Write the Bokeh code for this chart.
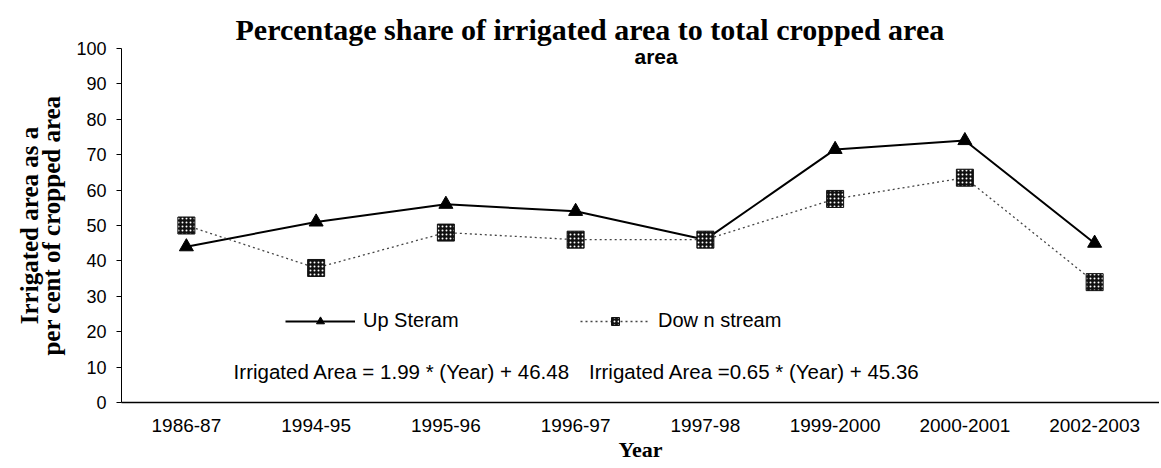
from bokeh.plotting import figure
from bokeh.models import Label, Legend, LegendItem, FactorRange, Range1d, FixedTicker
from bokeh.embed import file_html
from bokeh.resources import INLINE

years = ["1986-87", "1994-95", "1995-96", "1996-97", "1997-98", "1999-2000", "2000-2001", "2002-2003"]
up_stream = [44, 51, 56, 54, 46, 71.5, 74, 45]
down_stream = [50, 38, 48, 46, 46, 57.5, 63.5, 34]
y_ticks = [0, 10, 20, 30, 40, 50, 60, 70, 80, 90, 100]

title_text = "Percentage share of irrigated area to total cropped area"
subtitle_text = "area"
y_label_text = "Irrigated area as a\nper cent of cropped area"
x_label_text = "Year"
legend_labels = ["Up Steram", "Dow n stream"]
equations = ["Irrigated Area = 1.99 * (Year) + 46.48", "Irrigated Area =0.65 * (Year) + 45.36"]

SANS = "Liberation Sans"
SERIF = "Liberation Serif"

p = figure(x_range=FactorRange(*years), y_range=Range1d(0, 100),
           width=1159, height=466, output_backend="svg", toolbar_location=None,
           min_border_left=121, min_border_right=0, min_border_top=48, min_border_bottom=64)
p.outline_line_color = None
p.xgrid.visible = False
p.ygrid.visible = False
p.background_fill_color = "white"
p.border_fill_color = "white"

p.title.text = title_text
p.title.align = "left"
p.title.offset = 114
p.title.standoff = 6
p.title.text_font = SERIF
p.title.text_font_style = "bold"
p.title.text_font_size = "30px"
p.title.text_color = "black"

# x axis
xa = p.xaxis[0]
xa.axis_line_color = "black"
xa.axis_line_width = 1.5
xa.major_tick_out = 0
xa.major_tick_in = 0
xa.minor_tick_out = 0
xa.major_label_standoff = 16
xa.major_label_text_font = SANS
xa.major_label_text_font_size = "19px"
xa.major_label_text_color = "black"
xa.axis_label = x_label_text
xa.axis_label_standoff = 2
xa.axis_label_text_font = SERIF
xa.axis_label_text_font_style = "bold"
xa.axis_label_text_font_size = "22px"
xa.axis_label_text_color = "black"

# y axis
ya = p.yaxis[0]
ya.ticker = FixedTicker(ticks=y_ticks)
ya.axis_line_color = "black"
ya.axis_line_width = 1
ya.major_tick_out = 5
ya.major_tick_in = 0
ya.minor_tick_out = 0
ya.minor_tick_in = 0
ya.major_label_standoff = 10
ya.major_label_text_font = SANS
ya.major_label_text_font_size = "18px"
ya.major_label_text_color = "black"
ya.axis_label = y_label_text
ya.axis_label_standoff = 8
ya.axis_label_text_font = SERIF
ya.axis_label_text_font_style = "bold"
ya.axis_label_text_font_size = "25px"
ya.axis_label_text_line_height = 0.85
ya.axis_label_text_color = "black"

# series
up_line = p.line(years, up_stream, line_color="black", line_width=2)
down_line = p.line(years, down_stream, line_color="#444444", line_width=1.3, line_dash="2 3")
up_pts = p.scatter(years, up_stream, marker="triangle", size=14, fill_color="black", line_color="black")
down_pts = p.scatter(years, down_stream, marker="square", size=17, fill_color="#111111", line_color="#111111",
                     hatch_pattern="dot", hatch_color="white", hatch_scale=4, hatch_weight=1.2)

legend = Legend(items=[LegendItem(label=legend_labels[0], renderers=[up_line, up_pts]),
                       LegendItem(label=legend_labels[1], renderers=[down_line, down_pts])],
                orientation="horizontal", location=(164, 70),
                glyph_width=70, glyph_height=20, label_height=20, label_width=200,
                label_standoff=8, spacing=17, padding=0, margin=0,
                border_line_alpha=0, background_fill_alpha=0,
                label_text_font=SANS, label_text_font_size="20px", label_text_color="black")
p.add_layout(legend, "center")

# texts inside the plot area
p.add_layout(Label(x=4.12, y=97.6, text=subtitle_text, text_font=SANS, text_font_style="bold",
                   text_font_size="21px", text_align="center", text_baseline="alphabetic", text_color="black"))
p.add_layout(Label(x=0.864, y=8.8, text=equations[0], text_font=SANS, text_font_size="20.5px",
                   text_align="left", text_baseline="middle", text_color="black"))
p.add_layout(Label(x=3.603, y=8.8, text=equations[1], text_font=SANS, text_font_size="20.5px",
                   text_align="left", text_baseline="middle", text_color="black"))

open("out.html", "w").write(file_html(p, INLINE))
